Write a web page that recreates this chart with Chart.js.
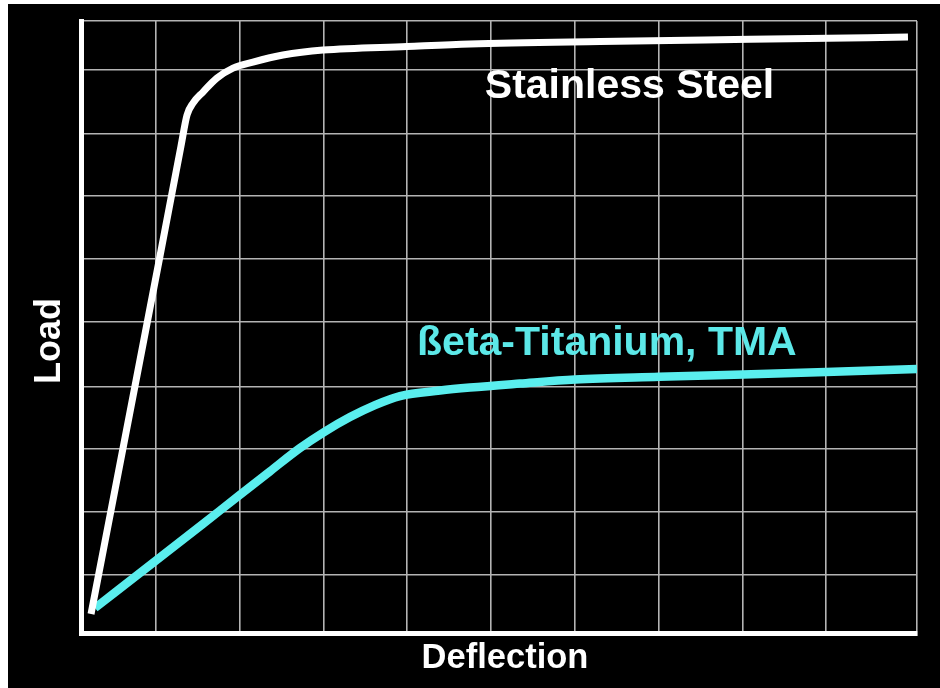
<!DOCTYPE html>
<html><head><meta charset="utf-8">
<script src="https://cdn.jsdelivr.net/npm/chart.js@4"></script>
<style>
html,body{margin:0;padding:0;background:#fff;}
#wrap{position:absolute;left:8px;top:4px;width:932px;height:684px;background:#000;}
canvas{display:block;}
</style></head><body>
<div id="wrap"><canvas id="c" width="932" height="684"></canvas></div>
<script>
// Deflection (x) / Load (y), in grid-cell units
const steelX = [0.120, 0.586, 0.945, 1.196, 1.268, 1.340, 1.459, 1.627, 1.818, 2.057, 2.416, 2.895, 3.900, 4.653, 6.208, 8.002, 9.892];
const steelY = [0.301, 3.503, 5.975, 7.718, 8.209, 8.399, 8.574, 8.796, 8.954, 9.049, 9.160, 9.239, 9.295, 9.334, 9.374, 9.409, 9.445];
const tmaX = [0.167, 0.945, 1.663, 2.261, 2.620, 2.907, 3.218, 3.517, 3.816, 4.294, 4.653, 5.251, 5.909, 6.914, 7.919, 8.911, 10.0];
const tmaY = [0.396, 1.197, 1.942, 2.563, 2.932, 3.185, 3.423, 3.613, 3.756, 3.843, 3.891, 3.954, 4.017, 4.060, 4.097, 4.136, 4.184];
const xGridTicks = [0.897, 1.902, 2.907, 3.900, 4.904, 5.909, 6.914, 7.919, 8.911, 10];
const yGridTicks = [0.92, 1.92, 2.92, 3.91, 4.93, 5.93, 6.93, 7.92, 8.92, 9.7];
const seriesNames = ['Stainless Steel', 'ßeta-Titanium, TMA'];
const axisTitleX = 'Deflection';
const axisTitleY = 'Load';

const FONT = '"Liberation Sans", Arial, Helvetica, sans-serif';
const colors = ['#ffffff', '#5aeeee'];
const labelColors = ['#ffffff', '#5ce8e8'];
const labelAnchors = [{x: 4.83, y: 8.48}, {x: 4.02, y: 4.41}];

const toPts = (xs, ys) => xs.map((v, i) => ({x: v, y: ys[i]}));

const textPlugin = {
  id: 'chartTexts',
  afterDatasetsDraw(chart) {
    const {ctx, scales: {x, y}, chartArea} = chart;
    ctx.save();
    ctx.textBaseline = 'alphabetic';
    // curve labels
    ctx.font = 'bold 41px ' + FONT;
    ctx.textAlign = 'left';
    seriesNames.forEach((name, i) => {
      ctx.fillStyle = labelColors[i];
      ctx.fillText(name, x.getPixelForValue(labelAnchors[i].x), y.getPixelForValue(labelAnchors[i].y));
    });
    // axis titles
    ctx.fillStyle = '#ffffff';
    ctx.textAlign = 'center';
    ctx.font = 'bold 34.5px ' + FONT;
    ctx.fillText(axisTitleX, chartArea.left + 424, chartArea.bottom + 35);
    ctx.translate(chartArea.left - 21, chartArea.top + 320);
    ctx.rotate(-Math.PI / 2);
    ctx.font = 'bold 36px ' + FONT;
    ctx.fillText(axisTitleY, 0, 0);
    ctx.restore();
  }
};

new Chart(document.getElementById('c'), {
  type: 'line',
  data: {
    datasets: [
      {label: seriesNames[0], data: toPts(steelX, steelY), borderColor: colors[0], borderWidth: 7,
       pointRadius: 0, cubicInterpolationMode: 'monotone', borderCapStyle: 'butt', fill: false},
      {label: seriesNames[1], data: toPts(tmaX, tmaY), borderColor: colors[1], borderWidth: 8.5,
       pointRadius: 0, cubicInterpolationMode: 'monotone', borderCapStyle: 'butt', fill: false}
    ]
  },
  options: {
    responsive: false,
    animation: false,
    events: [],
    layout: {padding: {left: 73, right: 23, top: 17, bottom: 55}},
    plugins: {legend: {display: false}, tooltip: {enabled: false}, title: {display: false}},
    scales: {
      x: {
        type: 'linear', min: 0, max: 10,
        afterBuildTicks: s => { s.ticks = xGridTicks.map(v => ({value: v})); },
        ticks: {display: false},
        grid: {color: '#b4b4b4', lineWidth: 1.6, drawTicks: false},
        border: {display: true, color: '#ffffff', width: 5},
        title: {display: false, text: axisTitleX}
      },
      y: {
        type: 'linear', min: 0, max: 9.7,
        afterBuildTicks: s => { s.ticks = yGridTicks.map(v => ({value: v})); },
        ticks: {display: false},
        grid: {color: '#b4b4b4', lineWidth: 1.6, drawTicks: false},
        border: {display: true, color: '#ffffff', width: 5},
        title: {display: false, text: axisTitleY}
      }
    }
  },
  plugins: [textPlugin]
});
</script>
</body></html>
